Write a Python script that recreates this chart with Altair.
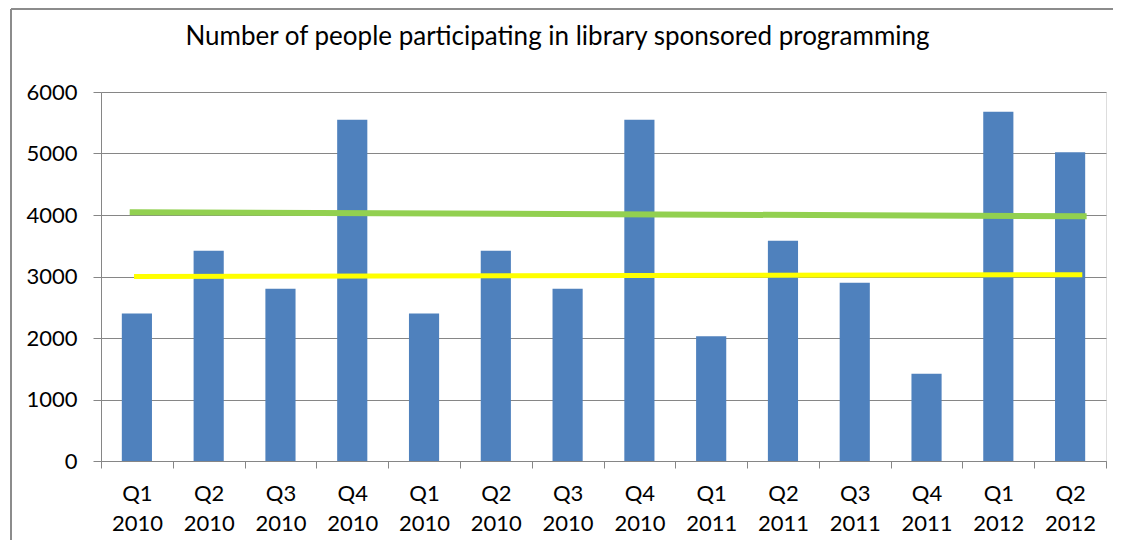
import altair as alt
import pandas as pd

# ---- data ----
quarters = ["Q1", "Q2", "Q3", "Q4", "Q1", "Q2", "Q3", "Q4",
            "Q1", "Q2", "Q3", "Q4", "Q1", "Q2"]
years = ["2010", "2010", "2010", "2010", "2010", "2010", "2010", "2010",
         "2011", "2011", "2011", "2011", "2012", "2012"]
participants = [2400, 3420, 2800, 5550, 2400, 3420, 2800, 5550,
                2030, 3580, 2900, 1420, 5680, 5020]

# hand-drawn reference lines (position in category units, value)
green_pos = [0.40, 13.73]
green_val = [4045, 3980]
yellow_pos = [0.46, 13.67]
yellow_val = [3000, 3030]

y_ticks = [0, 1000, 2000, 3000, 4000, 5000, 6000]

TITLE = "Number of people participating in library sponsored programming"
FONT = "Lato"
FS = 22
GRID = "#868686"

keys = [f"{q} {y}#{i}" for i, (q, y) in enumerate(zip(quarters, years))]
bars_df = pd.DataFrame({"key": keys, "value": participants})
green_df = pd.DataFrame({"pos": green_pos, "value": green_val})
yellow_df = pd.DataFrame({"pos": yellow_pos, "value": yellow_val})

y_enc = alt.Y(
    "value:Q",
    scale=alt.Scale(domain=[0, 6000], nice=False),
    axis=alt.Axis(
        values=y_ticks, title=None, format="d",
        grid=True, gridColor=GRID, gridWidth=1,
        domainColor=GRID, tickColor=GRID, tickSize=8,
        labelPadding=16, labelFont=FONT, labelFontSize=FS,
        labelColor="#000000",
    ),
)

bars = alt.Chart(bars_df).mark_bar(
    color="#4F81BD", width=alt.RelativeBandSize(0.42)
).encode(
    x=alt.X(
        "key:N", sort=keys,
        scale=alt.Scale(paddingInner=0, paddingOuter=0),
        axis=alt.Axis(
            title=None, labelAngle=0, tickBand="extent",
            labelExpr="isValid(datum.value) ? split(split(datum.value, '#')[0], ' ') : ''",
            tickSize=7, tickColor=GRID, domainColor=GRID,
            labelPadding=15, labelLineHeight=30,
            labelFont=FONT, labelFontSize=FS, labelColor="#000000",
            grid=False,
        ),
    ),
    y=y_enc,
)

x_line = alt.X("pos:Q", scale=alt.Scale(domain=[0, 14], nice=False, zero=False), axis=None)

green = alt.Chart(green_df).mark_line(color="#92D050", strokeWidth=6, clip=False).encode(
    x=x_line, y=alt.Y("value:Q")
)
yellow = alt.Chart(yellow_df).mark_line(color="#FFFF00", strokeWidth=5, clip=False).encode(
    x=x_line, y=alt.Y("value:Q")
)

# Excel chart-area border (top and left edges)
border_top = alt.Chart(bars_df).mark_rule(color="#8c8c8c", strokeWidth=1.5, clip=False).encode(
    x=alt.value(-90), x2=alt.value(1040), y=alt.value(-83)
)
border_left = alt.Chart(bars_df).mark_rule(color="#8c8c8c", strokeWidth=1.5, clip=False).encode(
    x=alt.value(-90), y=alt.value(-83), y2=alt.value(458)
)

chart = alt.layer(bars, green, yellow, border_top, border_left).resolve_scale(
    x="independent"
).properties(
    width=1005,
    height=369,
    autosize=alt.AutoSizeParams(type="none"),
    padding={"left": 93, "top": 84, "right": 7, "bottom": 79},
    title=alt.TitleParams(
        TITLE, font=FONT, fontSize=26, fontWeight="normal", color="#000000",
        anchor="middle", dx=-46, offset=-63, baseline="alphabetic", frame="group",
    ),
).configure_view(stroke=None).configure(background="white")

chart.save("out.html", embed_options={"renderer": "svg", "actions": False})
